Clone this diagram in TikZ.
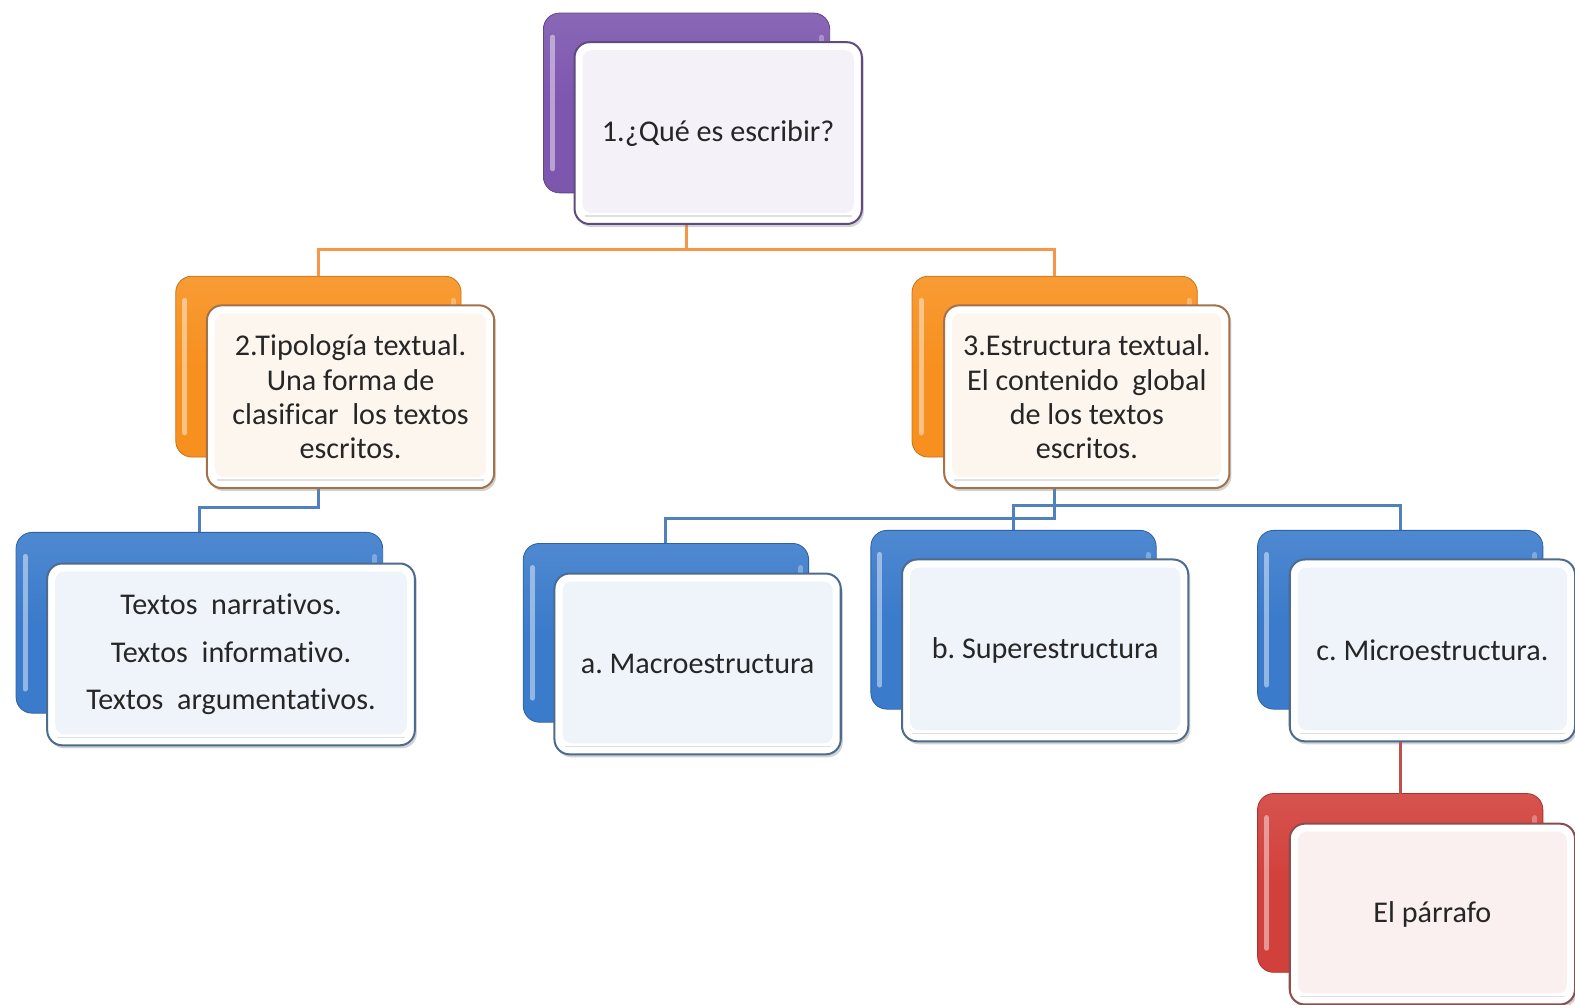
\documentclass[tikz,border=0pt]{standalone}
\usepackage{fontspec}
\setmainfont[Ligatures=CommonOff]{Carlito}
\usetikzlibrary{shadows}
\definecolor{purM}{HTML}{7D56AE}
\definecolor{purB}{HTML}{5F4C7E}
\definecolor{purT}{HTML}{F4F1F9}
\definecolor{oraM}{HTML}{F7901E}
\definecolor{oraB}{HTML}{A4714B}
\definecolor{oraT}{HTML}{FDF6EF}
\definecolor{bluM}{HTML}{3B7BCB}
\definecolor{bluB}{HTML}{4D6B8F}
\definecolor{bluT}{HTML}{EFF3FA}
\definecolor{redM}{HTML}{D2403B}
\definecolor{redB}{HTML}{8E4D4D}
\definecolor{redT}{HTML}{FBF0F0}
\definecolor{conO}{HTML}{F79646}
\definecolor{conB}{HTML}{4F81BD}
\definecolor{conR}{HTML}{C0504D}
\frenchspacing
\begin{document}
\begin{tikzpicture}[x=1pt,y=-1pt,
  backbox/.style={rounded corners=16pt, top color=#1!90!white, bottom color=#1, middle color=#1,
    draw=#1!80!black, line width=0.8pt, inner sep=0pt, outer sep=0pt},
  frontbox/.style n args={2}{rounded corners=15pt, fill=white, draw=#1, line width=2pt,
    drop shadow={shadow xshift=2pt, shadow yshift=-3pt, opacity=.35},
    align=center, inner sep=0pt, outer sep=0pt,
    font=\fontsize{30}{34}\selectfont, text=black!85,
    path picture={\fill[#2, rounded corners=9pt]
      ([shift={(8pt,-8pt)}]path picture bounding box.north west) rectangle
      ([shift={(-8pt,11pt)}]path picture bounding box.south east);
      \draw[black!12, line width=1.5pt]
      ([shift={(10pt,8pt)}]path picture bounding box.south west) --
      ([shift={(-10pt,8pt)}]path picture bounding box.south east);}},
  hl/.style={white, opacity=.45, line width=5pt, line cap=round},
  conn/.style={draw=#1, line width=3pt}
]
\useasboundingbox (0,0) rectangle (1568,1000);

% back boxes
\node[backbox=purM, minimum width=285pt, minimum height=179pt] (b1) at (683.5,102.5) {};
\node[backbox=oraM, minimum width=284pt, minimum height=180pt] (b2) at (317,365) {};
\node[backbox=oraM, minimum width=284pt, minimum height=180pt] (b3) at (1050,365) {};
\node[backbox=bluM, minimum width=365pt, minimum height=180pt] (b4) at (198.5,620) {};
\node[backbox=bluM, minimum width=284pt, minimum height=178pt] (b5) at (663,630) {};
\node[backbox=bluM, minimum width=284pt, minimum height=178pt] (b6) at (1009,617) {};
\node[backbox=bluM, minimum width=284pt, minimum height=178pt] (b7) at (1394,617) {};
\node[backbox=redM, minimum width=284pt, minimum height=178pt] (b8) at (1394,879) {};

\foreach \b in {b1,b2,b3,b4,b5,b6,b7,b8}{
  \draw[hl] ([shift={(9pt,-24pt)}]\b.north west) -- ([shift={(9pt,24pt)}]\b.south west);
  \draw[hl, opacity=.3] ([shift={(-8pt,-24pt)}]\b.north east) -- ([shift={(-8pt,-60pt)}]\b.north east);
}

% connectors
\coordinate (j1) at (683.5,248);
\coordinate (j2) at (317,505);
\coordinate (j3) at (1050,516);
\coordinate (j4) at (1050,503);
\draw[conn=conO] (b1.south) -- (j1) -| (b2.north);
\draw[conn=conO] (j1) -| (b3.north);
\draw[conn=conB] (b2.south) -- (j2) -| (b4.north);
\draw[conn=conB] (b3.south) -- (j3) -| (b5.north);
\draw[conn=conB] (j4) -| (b6.north);
\draw[conn=conB] (j4) -| (b7.north);
\draw[conn=conR] (b7.south) -- (b8.north);

% front boxes
\node[frontbox={purB}{purT}, minimum width=286pt, minimum height=181pt] (f1) at (715,132.5) {1.¿Qué es escribir?};
\node[frontbox={oraB}{oraT}, minimum width=286pt, minimum height=182pt] (f2) at (349,395)
  {2.Tipología textual.\\Una forma de\\clasificar\ \ los textos\\escritos.};
\node[frontbox={oraB}{oraT}, minimum width=284pt, minimum height=182pt] (f3) at (1082,395)
  {3.Estructura textual.\\El contenido\ \ global\\de los textos\\escritos.};
\node[frontbox={bluB}{bluT}, minimum width=366pt, minimum height=181pt,
  font=\fontsize{30}{47}\selectfont] (f4) at (230,651.5)
  {Textos\ \ narrativos.\\Textos\ \ informativo.\\Textos\ \ argumentativos.};
\node[frontbox={bluB}{bluT}, minimum width=285pt, minimum height=180pt] (f5) at (694.5,661) {a. Macroestructura};
\node[frontbox={bluB}{bluT}, minimum width=285pt, minimum height=181pt] (f6) at (1040.5,647.5) {b. Superestructura};
\node[frontbox={bluB}{bluT}, minimum width=284pt, minimum height=181pt] (f7) at (1426,647.5) {c. Microestructura.};
\node[frontbox={redB}{redT}, minimum width=284pt, minimum height=180pt] (f8) at (1426,910) {El párrafo};
\end{tikzpicture}
\end{document}
